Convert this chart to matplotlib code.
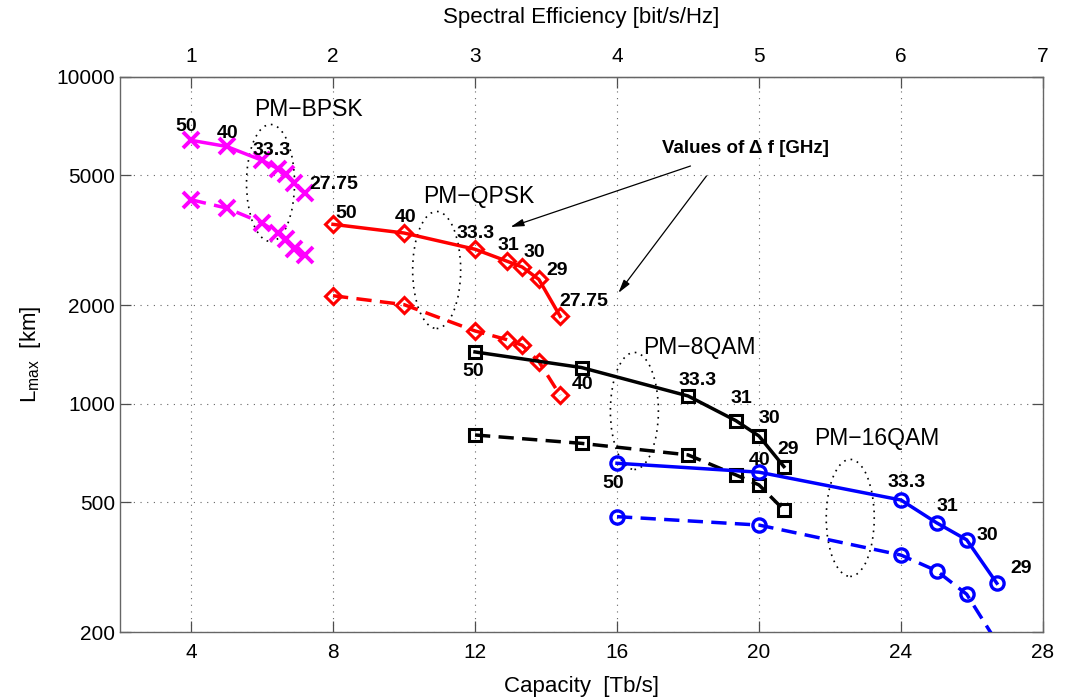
import numpy as np
import matplotlib
matplotlib.use("Agg")
import matplotlib.pyplot as plt
from matplotlib import font_manager
from matplotlib.patches import Ellipse
from matplotlib.ticker import FixedLocator, FixedFormatter, NullLocator

# Datos: capacidad [Tb/s] y L_max [km]
bpsk_c = [4.0, 5.0, 6.0, 6.45, 6.67, 6.9, 7.2]
bpsk_solid = [6400, 6130, 5560, 5240, 5060, 4740, 4400]
bpsk_dash = [4210, 3970, 3580, 3320, 3190, 2980, 2850]
bpsk_lbl = ["50", "40", "33.3", "", "", "", "27.75"]

qpsk_c = [8.0, 10.0, 12.0, 12.9, 13.33, 13.8, 14.4]
qpsk_solid = [3540, 3330, 2970, 2730, 2620, 2400, 1850]
qpsk_dash = [2140, 2010, 1670, 1570, 1510, 1345, 1060]
qpsk_lbl = ["50", "40", "33.3", "31", "30", "29", "27.75"]

qam8_c = [12.0, 15.0, 18.0, 19.35, 20.0, 20.7]
qam8_solid = [1440, 1290, 1056, 887, 796, 642]
qam8_dash = [802, 756, 697, 605, 564, 473]
qam8_lbl = ["50", "40", "33.3", "31", "30", "29"]

qam16_c = [16.0, 20.0, 24.0, 25.0, 25.85, 26.7]
qam16_solid = [657, 617, 507, 432, 383, 282]
qam16_dash = [451, 425, 344, 308, 261, 186]
qam16_lbl = ["50", "40", "33.3", "31", "30", "29"]

x_ticks = [4, 8, 12, 16, 20, 24, 28]
se_ticks = [1, 2, 3, 4, 5, 6, 7]
y_ticks = [200, 500, 1000, 2000, 5000, 10000]

# fuentes
def has_font(name):
    try:
        font_manager.findfont(name, fallback_to_default=False)
        return True
    except Exception:
        return False

main_font = "Liberation Sans" if has_font("Liberation Sans") else "DejaVu Sans"
narrow_font = "Liberation Sans Narrow" if has_font("Liberation Sans Narrow") else main_font
plt.rcParams["font.family"] = [main_font, "DejaVu Sans"]
plt.rcParams["mathtext.fontset"] = "custom"
plt.rcParams["mathtext.rm"] = main_font
plt.rcParams["mathtext.it"] = main_font

fig = plt.figure(figsize=(10.65, 7), dpi=100)
ax = fig.add_axes([120 / 1065, 1 - 632 / 700, 923 / 1065, 555 / 700])
ax.set_yscale("log")
ax.set_xlim(2, 28)
ax.set_ylim(200, 10000)

dash = (4.4, 2.4)
series = [
    (bpsk_c, bpsk_solid, bpsk_dash, (1, 0, 1), "x", 12, 2.8),
    (qpsk_c, qpsk_solid, qpsk_dash, (1, 0, 0), "D", 8.5, 2.2),
    (qam8_c, qam8_solid, qam8_dash, (0, 0, 0), "s", 8.5, 2.2),
    (qam16_c, qam16_solid, qam16_dash, (0, 0, 1), "o", 9.5, 2.4),
]
for c, ys, yd, col, mk, ms, mew in series:
    ax.plot(c, ys, color=col, lw=2.5, marker=mk, ms=ms, mew=mew, mfc="none", zorder=3)
    ax.plot(c, yd, color=col, lw=2.5, marker=mk, ms=ms, mew=mew, mfc="none",
            ls="--", dashes=dash, zorder=3)

# etiquetas de delta f (desplazamientos en pixeles)
offsets = [
    (bpsk_c, bpsk_solid, bpsk_lbl, [(-5, 14), (1, 13), (10, 10), None, None, None, (29, 9)]),
    (qpsk_c, qpsk_solid, qpsk_lbl, [(13, 11), (2, 16), (1, 16), (1, 16), (12, 15), (18, 9), (24, 15)]),
    (qam8_c, qam8_solid, qam8_lbl, [(-2, -20), (1, -17), (10, 15), (5, 22), (10, 18), (4, 17)]),
    (qam16_c, qam16_solid, qam16_lbl, [(-4, -20), (1, 12), (6, 18), (11, 16), (21, 4), (24, 15)]),
]
for c, ys, lbls, offs in offsets:
    for xi, yi, t, o in zip(c, ys, lbls, offs):
        if not t:
            continue
        ax.annotate(t, (xi, yi), xytext=o, textcoords="offset pixels",
                    ha="center", va="center", fontsize=14, fontweight="bold", zorder=4)

ax.text(7.32, 7925, "PM\u2212BPSK", fontsize=16.5, ha="center", va="center")
ax.text(12.1, 4292, "PM\u2212QPSK", fontsize=16.5, ha="center", va="center")
ax.text(18.32, 1481, "PM\u22128QAM", fontsize=16.5, ha="center", va="center")
ax.text(23.33, 785, "PM\u221216QAM", fontsize=16.5, ha="center", va="center")

# elipses punteadas
for cx, cy in [(6.24, 4738), (10.92, 2566), (16.49, 950), (22.57, 447)]:
    pa = ax.transAxes.inverted().transform(ax.transData.transform((cx, cy)))
    ax.add_patch(Ellipse(pa, 48 / 923, 117 / 555, transform=ax.transAxes, fill=False,
                         ls=(0, (1, 3)), lw=1.2, color="black", zorder=2))

ax.text(19.62, 6020, "Values of \u0394 f [GHz]", fontsize=13.5, fontweight="bold",
        ha="center", va="center")
for tail, head in [((18.07, 5340), (13.0, 3475)), ((18.52, 4977), (16.04, 2183))]:
    ax.annotate("", xy=head, xytext=tail,
                arrowprops=dict(arrowstyle="-|>,head_length=0.8,head_width=0.22",
                                color="black", lw=0.9, shrinkA=0, shrinkB=0))

# ejes
ax.xaxis.set_major_locator(FixedLocator(x_ticks))
ax.yaxis.set_major_locator(FixedLocator(y_ticks))
ax.yaxis.set_major_formatter(FixedFormatter([str(v) for v in y_ticks]))
ax.yaxis.set_minor_locator(NullLocator())
ax.grid(True, which="major", ls=(0, (1, 5)), color="0.4", lw=0.8)
ax.tick_params(direction="in", length=8, width=0.9, right=True, colors="0.3",
               labelcolor="black")
ax.tick_params(axis="y", labelsize=15)
ax.tick_params(axis="x", labelsize=15, pad=8)
for lab in ax.get_xticklabels():
    lab.set_family(narrow_font)
for sp in ax.spines.values():
    sp.set_color("0.4")
    sp.set_linewidth(1.0)

ax.set_xlabel("Capacity  [Tb/s]", fontsize=16, family=narrow_font, labelpad=10)
ax.set_ylabel(r"L$_{\mathregular{max}}$  [km]", fontsize=16, labelpad=10)

top = ax.secondary_xaxis("top", functions=(lambda c: np.asarray(c) / 4.0, lambda s: np.asarray(s) * 4.0))
top.xaxis.set_major_locator(FixedLocator(se_ticks))
top.tick_params(direction="in", length=8, width=0.9, labelsize=15, colors="0.3",
                labelcolor="black", pad=8)
for lab in top.get_xticklabels():
    lab.set_family(narrow_font)
top.set_xlabel("Spectral Efficiency [bit/s/Hz]", fontsize=16, family=narrow_font, labelpad=17)

fig.savefig("out.png", dpi=100)
